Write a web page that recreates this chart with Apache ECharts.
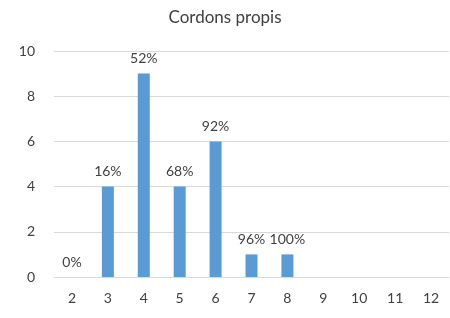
<!DOCTYPE html>
<html>
<head>
<meta charset="utf-8">
<script src="https://cdn.jsdelivr.net/npm/echarts@6/dist/echarts.min.js"></script>
<style>
  html, body { margin: 0; padding: 0; background: #fff; }
  #chart { width: 450px; height: 318px; }
</style>
</head>
<body>
<div id="chart"></div>
<script>
// categories and values
var categories = ["2", "3", "4", "5", "6", "7", "8", "9", "10", "11", "12"];
var counts = [0, 4, 9, 4, 6, 1, 1, 0, 0, 0, 0];
var cumulLabels = ["0%", "16%", "52%", "68%", "92%", "96%", "100%", "", "", "", ""];

var myChart = echarts.init(document.getElementById("chart"));
var option = {
  animation: false,
  title: {
    text: "Cordons propis",
    left: "center",
    top: 4,
    textStyle: { fontFamily: "Lato", fontSize: 17, fontWeight: "normal", color: "#404040" }
  },
  grid: { left: 54, right: 1, top: 51, bottom: 41 },
  xAxis: {
    type: "category",
    data: categories,
    axisLine: { lineStyle: { color: "#d9d9d9" } },
    axisTick: { show: false },
    axisLabel: { color: "#404040", fontFamily: "Lato", fontSize: 14, margin: 14 }
  },
  yAxis: {
    type: "value",
    min: 0,
    max: 10,
    interval: 2,
    axisLine: { show: false },
    axisTick: { show: false },
    splitLine: { lineStyle: { color: "#d9d9d9" } },
    axisLabel: { color: "#404040", fontFamily: "Lato", fontSize: 14, margin: 19 }
  },
  series: [
    {
      type: "bar",
      data: counts,
      barWidth: 12,
      itemStyle: { color: "#5b9bd5" },
      label: {
        show: true,
        position: "top",
        distance: 8,
        color: "#404040",
        fontFamily: "Lato",
        fontSize: 14,
        formatter: function (p) { return cumulLabels[p.dataIndex]; }
      }
    }
  ]
};
myChart.setOption(option);
</script>
</body>
</html>
